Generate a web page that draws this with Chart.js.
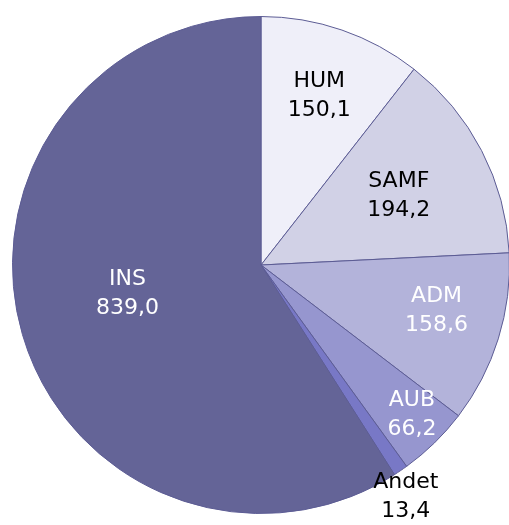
<!DOCTYPE html>
<html>
<head>
<meta charset="utf-8">
<script src="https://cdn.jsdelivr.net/npm/chart.js@4"></script>
<style>
    html, body { margin: 0; padding: 0; background: #fff; overflow: hidden; }
    #wrap { position: relative; width: 510px; height: 525px; }
</style>
</head>
<body>
<div id="wrap"><canvas id="chartPie" width="510" height="525"></canvas></div>
<script>
const categories = ['HUM', 'SAMF', 'ADM', 'AUB', 'Andet', 'INS'];
const values = [150.1, 194.2, 158.6, 66.2, 13.4, 839.0];

const SLICE_COLORS = ['#efeff9', '#d1d1e6', '#b3b3da', '#9696cf', '#7878c6', '#646497'];
const TEXT_COLORS = ['#000', '#000', '#fff', '#fff', '#000', '#fff'];
// label placement: share of the radius, and a small turn (degrees) off the slice middle
const LABEL_RADIUS = [0.72, 0.62, 0.73, 0.855, 1.10, 0.55];
const LABEL_TURN = [0, 0.8, -2.7, -1, 2.2, 3.9];

const fmt = v => v.toFixed(1).replace('.', ',');

const sliceLabels = {
    id: 'sliceLabels',
    afterDatasetsDraw(chart) {
        const ctx = chart.ctx;
        const arcs = chart.getDatasetMeta(0).data;
        ctx.save();
        ctx.font = '22px "DejaVu Sans", Verdana, sans-serif';
        ctx.textAlign = 'center';
        ctx.textBaseline = 'middle';
        arcs.forEach((arc, i) => {
            const { x, y, startAngle, endAngle, outerRadius } = arc.getProps(['x', 'y', 'startAngle', 'endAngle', 'outerRadius'], true);
            const mid = (startAngle + endAngle) / 2 + LABEL_TURN[i] * Math.PI / 180;
            const r = outerRadius * LABEL_RADIUS[i];
            const lx = x + Math.cos(mid) * r;
            const ly = y + Math.sin(mid) * r;
            ctx.fillStyle = TEXT_COLORS[i];
            ctx.fillText(categories[i], lx, ly - 14.5);
            ctx.fillText(fmt(values[i]), lx, ly + 14.5);
        });
        ctx.restore();
    },
};

new Chart(document.getElementById('chartPie'), {
    type: 'pie',
    data: {
        labels: categories,
        datasets: [{
            data: values,
            backgroundColor: SLICE_COLORS,
            borderColor: '#5c5c94',
            borderWidth: 1,
        }],
    },
    options: {
        responsive: false,
        animation: false,
        layout: { padding: { left: 12, top: 16, right: 0, bottom: 11 } },
        plugins: {
            legend: { display: false },
            tooltip: { enabled: false },
        },
    },
    plugins: [sliceLabels],
});
</script>
</body>
</html>
